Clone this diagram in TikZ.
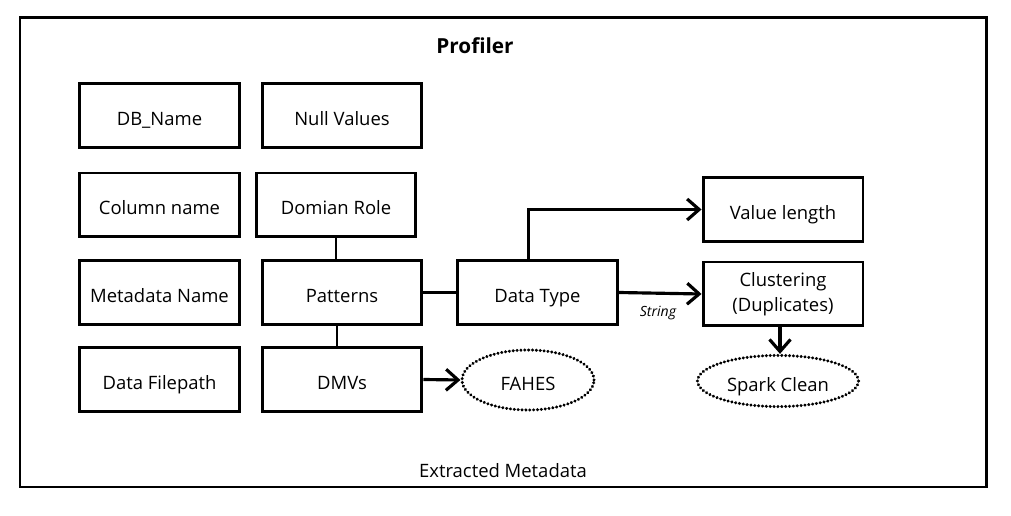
\documentclass[tikz,border=0pt]{standalone}
\usepackage{fontspec}
\setmainfont{Open Sans}
\usetikzlibrary{calc,shapes.geometric,arrows.meta}

\tikzset{
  box/.style={draw,line width=1.7pt,minimum width=3.2cm,minimum height=1.28cm,font=\fontsize{10.5}{14.5}\selectfont,align=center},
  onebox/.style={box,text height=2.3ex,text depth=0.25ex},
  tool/.style={draw,ellipse,line width=1.8pt,dash pattern=on 0.1pt off 2.1pt,line cap=round,font=\fontsize{10.5}{12.5}\selectfont,text height=2.4ex,text depth=0.2ex},
  link/.style={line width=1.7pt},
  flow/.style={line width=1.8pt,-{Straight Barb[length=2.4mm,width=4.2mm]}}
}

\begin{document}
\begin{tikzpicture}[x=0.02cm,y=-0.02cm]
  \useasboundingbox (0,0) rectangle (1011,516);
  \draw[line width=1.7pt] (20,18) rectangle (986,487);

  \node[font=\fontsize{11.8}{14}\selectfont\bfseries] (title) at (475,46) {Profiler};

  \node[onebox] (dbname) at (159.5,115.5) {DB\_Name};
  \node[onebox] (nullvalues) at (342,115.5) {Null Values};
  \node[onebox] (colname) at (159.5,205) {Column name};
  \node[onebox] (domainrole) at (336,205) {Domian Role};
  \node[onebox] (metaname) at (159.5,292.5) {Metadata Name};
  \node[onebox] (patterns) at (342,292.5) {Patterns};
  \node[onebox] (filepath) at (159.5,379.5) {Data Filepath};
  \node[onebox] (dmvs) at (342,379.5) {DMVs};
  \node[onebox] (datatype) at (537.5,292.5) {Data Type};
  \node[onebox] (valuelength) at (783,209.5) {Value length};
  \node[box] (clustering) at (783,294) {Clustering\\(Duplicates)};

  \node[tool,minimum width=2.64cm,minimum height=1.2cm] (fahes) at (528,380) {FAHES};
  \node[tool,minimum width=3.22cm,minimum height=0.84cm] (sparkclean) at (778,381) {Spark Clean};

  \draw[link] (domainrole.south) -- (domainrole.south |- patterns.north);
  \draw[link] ($ (patterns.south) + (-5,0) $) -- ($ (dmvs.north) + (-5,0) $);
  \draw[link] (patterns.east) -- (datatype.west);
  \draw[flow] ($ (datatype.north) + (-9,0) $) |- (valuelength.west);
  \draw[flow] (datatype.east) -- (clustering.west);
  \draw[flow] ($ (clustering.south) + (-3,0) $) -- ($ (sparkclean.north) + (2,0) $);
  \draw[flow] (dmvs.east) -- (fahes.west);

  \node[font=\fontsize{8}{9.5}\selectfont\itshape] (string) at (658,313) {String};
  \node[font=\fontsize{10.5}{12.5}\selectfont] (extracted) at (503,471) {Extracted Metadata};
\end{tikzpicture}
\end{document}
